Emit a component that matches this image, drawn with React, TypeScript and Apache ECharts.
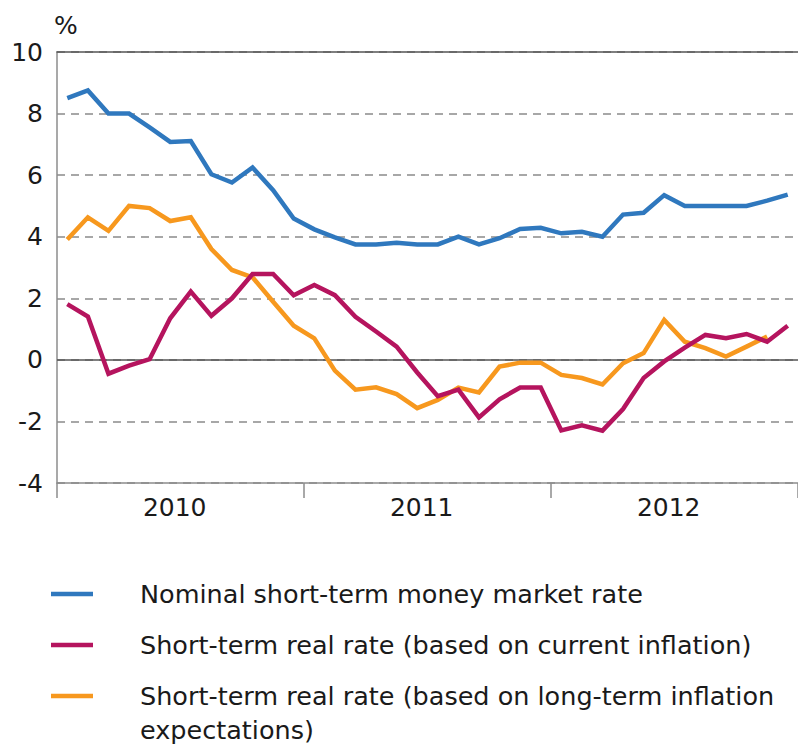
import React, { useEffect, useRef } from "react";
import * as echarts from "echarts";

const months = [
  "2010-01","2010-02","2010-03","2010-04","2010-05","2010-06","2010-07","2010-08","2010-09","2010-10","2010-11","2010-12",
  "2011-01","2011-02","2011-03","2011-04","2011-05","2011-06","2011-07","2011-08","2011-09","2011-10","2011-11","2011-12",
  "2012-01","2012-02","2012-03","2012-04","2012-05","2012-06","2012-07","2012-08","2012-09","2012-10","2012-11","2012-12",
];

const nominalRate = [
  8.5, 8.75, 8.0, 8.0, 7.55, 7.08, 7.11, 6.03, 5.76, 6.25, 5.51, 4.59,
  4.24, 3.98, 3.75, 3.75, 3.8, 3.75, 3.75, 4.0, 3.75, 3.95, 4.25, 4.29,
  4.11, 4.16, 4.0, 4.72, 4.78, 5.35, 5.0, 5.0, 5.0, 5.0, 5.17, 5.37,
];

const realRateCurrent = [
  1.81, 1.41, -0.45, -0.19, 0.02, 1.35, 2.22, 1.43, 2.0, 2.79, 2.79, 2.1,
  2.43, 2.1, 1.4, 0.92, 0.43, -0.41, -1.18, -0.97, -1.87, -1.28, -0.9, -0.9,
  -2.29, -2.13, -2.3, -1.6, -0.59, -0.05, 0.4, 0.81, 0.7, 0.84, 0.59, 1.11,
];

const realRateLongTerm = [
  3.91, 4.63, 4.19, 5.0, 4.93, 4.51, 4.63, 3.6, 2.92, 2.68, 1.89, 1.11,
  0.7, -0.35, -0.97, -0.89, -1.11, -1.57, -1.3, -0.9, -1.06, -0.22, -0.09, -0.09,
  -0.49, -0.59, -0.8, -0.11, 0.22, 1.3, 0.59, 0.38, 0.11, 0.43, 0.76, null,
];

const seriesNames = [
  "Nominal short-term money market rate",
  "Short-term real rate (based on current inflation)",
  "Short-term real rate (based on long-term inflation\nexpectations)",
];

const yTicks = { min: -4, max: 10, interval: 2 };

const BLUE = "#2F78BE";
const MAGENTA = "#B5145E";
const ORANGE = "#F7981E";
const FONT = "DejaVu Sans";
const TEXT = "#1a1a1a";

export default function App() {
  const ref = useRef<HTMLDivElement>(null);

  useEffect(() => {
    if (!ref.current) return;
    const chart = echarts.init(ref.current, undefined, { renderer: "svg" });

    const legendColors = [BLUE, MAGENTA, ORANGE];
    const legendY = [594, 645, 696];
    const legendGraphics: any[] = [];
    seriesNames.forEach((name, i) => {
      legendGraphics.push({
        type: "line",
        shape: { x1: 51, y1: legendY[i], x2: 93, y2: legendY[i] },
        style: { stroke: legendColors[i], lineWidth: 4.5 },
        silent: true,
      });
      legendGraphics.push({
        type: "text",
        x: 140,
        y: legendY[i] - 17,
        style: {
          text: name,
          font: `25.5px "${FONT}"`,
          fill: TEXT,
          lineHeight: 34,
        },
        silent: true,
      });
    });

    chart.setOption({
      animation: false,
      backgroundColor: "#ffffff",
      textStyle: { fontFamily: FONT },
      grid: { left: 57, top: 52, width: 743, height: 431, containLabel: false },
      xAxis: [
        {
          type: "category",
          data: months,
          boundaryGap: true,
          position: "bottom",
          axisLine: { show: true, onZero: false, lineStyle: { color: "#8c8c8c", width: 1.5 } },
          axisTick: {
            show: true,
            interval: (idx: number) => idx % 12 === 0 && idx < months.length,
            length: 15,
            lineStyle: { color: "#8c8c8c", width: 1.5 },
          },
          axisLabel: {
            interval: (idx: number) => idx % 12 === 5,
            formatter: (v: string) => v.slice(0, 4),
            fontSize: 25,
            color: TEXT,
            fontFamily: FONT,
            margin: 12,
            padding: [0, 0, 0, 9],
          },
          splitLine: { show: false },
        },
        {
          type: "category",
          data: months,
          position: "top",
          axisLine: { show: true, onZero: false, lineStyle: { color: "#555555", width: 1.5 } },
          axisTick: { show: false },
          axisLabel: { show: false },
          splitLine: { show: false },
        },
      ],
      yAxis: {
        type: "value",
        min: yTicks.min,
        max: yTicks.max,
        interval: yTicks.interval,
        name: "%",
        nameLocation: "end",
        nameGap: 14,
        nameTextStyle: { fontSize: 25, color: TEXT, fontFamily: FONT, align: "left", verticalAlign: "bottom", padding: [0, 0, 0, -3] },
        axisLine: { show: true, lineStyle: { color: "#8c8c8c", width: 1.5 } },
        axisTick: { show: false },
        axisLabel: { fontSize: 25, color: TEXT, fontFamily: FONT, margin: 14 },
        splitLine: { show: true, lineStyle: { type: [8, 6], color: "#8a8a8a", width: 1.5 } },
      },
      series: [
        {
          name: seriesNames[0],
          type: "line",
          data: nominalRate,
          symbol: "none",
          lineStyle: { color: BLUE, width: 4.5, join: "miter" },
          itemStyle: { color: BLUE },
          z: 3,
          markLine: {
            silent: true,
            symbol: "none",
            label: { show: false },
            lineStyle: { color: "#555555", width: 1.5, type: "solid" },
            data: [{ yAxis: 0 }],
            z: 1,
          },
        },
        {
          name: seriesNames[2],
          type: "line",
          data: realRateLongTerm,
          symbol: "none",
          lineStyle: { color: ORANGE, width: 4.5, join: "miter" },
          itemStyle: { color: ORANGE },
          z: 3,
        },
        {
          name: seriesNames[1],
          type: "line",
          data: realRateCurrent,
          symbol: "none",
          lineStyle: { color: MAGENTA, width: 4.5, join: "miter" },
          itemStyle: { color: MAGENTA },
          z: 4,
        },
      ],
      graphic: legendGraphics,
    });

    return () => chart.dispose();
  }, []);

  return (
    <div
      ref={ref}
      style={{ position: "absolute", left: 0, top: 0, width: 798, height: 747, background: "#fff" }}
    />
  );
}
